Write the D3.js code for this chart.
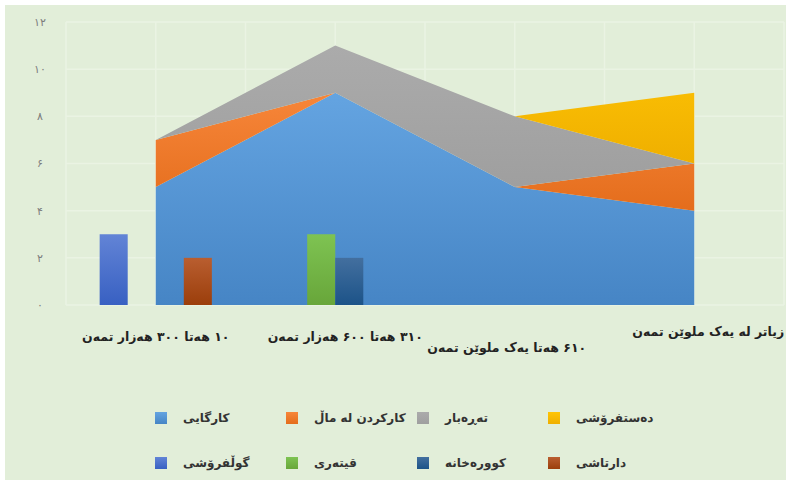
<!DOCTYPE html>
<html>
<head>
<meta charset="utf-8">
<script src="https://cdn.jsdelivr.net/npm/d3@7"></script>
<style>
  body { margin: 0; background: #fff; }
  text { font-family: "DejaVu Sans", sans-serif; }
</style>
</head>
<body>
<div id="graph1"></div>
<script>
const width = 786,
    height = 483;

// categories on the x axis
const categories = [
  "۱۰ هەتا ۳۰۰ هەزار تمەن",
  "۳۱۰ هەتا ۶۰۰ هەزار تمەن",
  "۶۱۰ هەتا یەک ملوێن تمەن",
  "زیاتر لە یەک ملوێن تمەن"
];

// stacked area series
const areaNames = ["کارگایی", "کارکردن لە ماڵ", "تەڕەبار", "دەستفرۆشی"];
const karGayi = [5, 9, 5, 4];
const karkirdinLaMal = [2, 0, 0, 2];
const tarabar = [0, 2, 3, 0];
const dastfroshi = [0, 0, 0, 3];

// clustered bar series
const barNames = ["گوڵفرۆشی", "قیتەری", "کوورەخانە", "دارتاشی"];
const golfroshi = [3, 0, 0, 0];
const qitari = [0, 3, 0, 0];
const kurakhana = [0, 2, 0, 0];
const dartashi = [2, 0, 0, 0];

const yTicks = [0, 2, 4, 6, 8, 10, 12];
const yTickLabels = ["۰", "۲", "۴", "۶", "۸", "۱۰", "۱۲"];

const areaColors = [["#64a4e1", "#4685c5"], ["#f7863a", "#e46d1c"], ["#ababab", "#9f9f9f"], ["#ffc505", "#efaf00"]];
const barColors = [["#6284d6", "#3860c2"], ["#7ec352", "#68a63a"], ["#436f9f", "#1c5388"], ["#b95e30", "#9b3e0b"]];

document.addEventListener("DOMContentLoaded", function () {
  drawGraph();
});

function drawGraph() {
  const svg = d3.select("#graph1")
    .append("svg")
    .attr("width", width)
    .attr("height", height);

  const defs = svg.append("defs");
  function grad(id, c) {
    const g = defs.append("linearGradient").attr("id", id)
      .attr("x1", 0).attr("y1", 0).attr("x2", 0).attr("y2", 1);
    g.append("stop").attr("offset", "0%").attr("stop-color", c[0]);
    g.append("stop").attr("offset", "100%").attr("stop-color", c[1]);
  }
  areaColors.forEach((c, i) => grad("ag" + i, c));
  barColors.forEach((c, i) => grad("bg" + i, c));

  // background panel
  svg.append("rect")
    .attr("x", 5).attr("y", 5)
    .attr("width", width - 5).attr("height", 475)
    .attr("fill", "#e2eed9");

  const x = d3.scaleBand()
    .domain(categories)
    .range([66, 784])
    .padding(0);

  const y = d3.scaleLinear()
    .domain([0, 12])
    .range([305, 22]);

  const cx = d => x(d) + x.step() / 2;

  // grid
  const grid = svg.append("g");
  grid.selectAll("line.h")
    .data(yTicks)
    .join("line")
      .attr("x1", 66).attr("x2", 784)
      .attr("y1", d => y(d)).attr("y2", d => y(d))
      .attr("stroke", "#eaf3e3").attr("stroke-width", 1.5);
  const vLines = d3.range(0, categories.length * 2 + 1).map(i => 66 + i * x.step() / 2);
  grid.selectAll("line.v")
    .data(vLines)
    .join("line")
      .attr("x1", d => d).attr("x2", d => d)
      .attr("y1", y(12)).attr("y2", y(0))
      .attr("stroke", "#eaf3e3").attr("stroke-width", 1.5);

  // stacked areas
  const rows = categories.map((c, i) => ({
    cat: c,
    [areaNames[0]]: karGayi[i],
    [areaNames[1]]: karkirdinLaMal[i],
    [areaNames[2]]: tarabar[i],
    [areaNames[3]]: dastfroshi[i]
  }));
  const stack = d3.stack().keys(areaNames)(rows);
  const area = d3.area()
    .x(d => cx(d.data.cat))
    .y0(d => y(d[0]))
    .y1(d => y(d[1]));

  svg.append("g")
    .selectAll("path")
    .data(stack)
    .join("path")
      .attr("fill", (d, i) => "url(#ag" + i + ")")
      .attr("d", area);

  // clustered bars
  const barData = [golfroshi, qitari, kurakhana, dartashi];
  const cluster = x.step() * 0.625;
  const xb = d3.scaleBand().domain(barNames).range([-cluster / 2, cluster / 2]);
  const bars = [];
  barData.forEach((vals, s) => vals.forEach((v, i) => {
    if (v > 0) bars.push({ s: s, cat: categories[i], v: v });
  }));
  svg.append("g")
    .selectAll("rect")
    .data(bars)
    .join("rect")
      .attr("x", d => cx(d.cat) + xb(barNames[d.s]))
      .attr("width", xb.bandwidth())
      .attr("y", d => y(d.v))
      .attr("height", d => y(0) - y(d.v))
      .attr("fill", d => "url(#bg" + d.s + ")");

  // y tick labels
  svg.append("g")
    .selectAll("text")
    .data(yTicks)
    .join("text")
      .attr("x", 40)
      .attr("y", d => y(d))
      .attr("dy", "0.35em")
      .attr("text-anchor", "middle")
      .attr("fill", "#7d7d7d")
      .style("font-size", "11px")
      .text((d, i) => yTickLabels[i]);

  // x labels (staggered like the original)
  const labelDx = [0, 10, -8, 14];
  const labelDy = [36, 36, 47, 31];
  svg.append("g")
    .selectAll("text")
    .data(categories)
    .join("text")
      .attr("x", (d, i) => cx(d) + labelDx[i])
      .attr("y", (d, i) => y(0) + labelDy[i])
      .attr("text-anchor", "middle")
      .attr("direction", "rtl")
      .attr("fill", "#222")
      .style("font-size", "12.5px")
      .style("font-weight", "bold")
      .text(d => d);

  // legend
  const legendNames = areaNames.concat(barNames);
  const legendFills = areaColors.map((c, i) => "url(#ag" + i + ")").concat(barColors.map((c, i) => "url(#bg" + i + ")"));
  const legend = svg.append("g")
    .selectAll("g")
    .data(legendNames)
    .join("g")
      .attr("transform", (d, i) => `translate(${155 + (i % 4) * 131}, ${412 + Math.floor(i / 4) * 45})`);

  legend.append("rect")
      .attr("width", 12)
      .attr("height", 12)
      .attr("fill", (d, i) => legendFills[i]);

  legend.append("text")
      .attr("x", 28)
      .attr("y", 6)
      .attr("dy", "0.35em")
      .attr("direction", "rtl")
      .attr("text-anchor", "end")
      .attr("fill", "#333")
      .style("font-size", "12px")
      .style("font-weight", "bold")
      .text(d => d);
}
</script>
</body>
</html>
